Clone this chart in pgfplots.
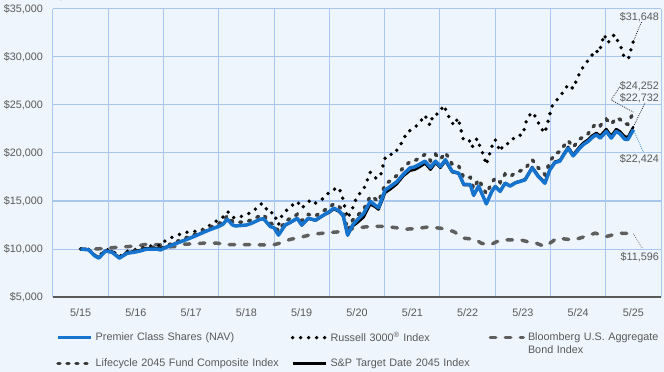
\documentclass[border=0pt]{standalone}
\usepackage{pgfplots}
\pgfplotsset{compat=1.18}
\usepackage{fontspec}
\setmainfont{Liberation Sans}
\definecolor{bgc}{RGB}{238,245,252}
\definecolor{gridblue}{RGB}{168,198,238}
\definecolor{axisgray}{RGB}{89,89,89}
\definecolor{textgray}{RGB}{89,89,89}
\definecolor{premblue}{RGB}{22,116,206}
\definecolor{bbgray}{RGB}{95,95,95}
\definecolor{lcgray}{RGB}{60,60,60}
\tikzset{
  premst/.style={draw=premblue, line width=3.5pt, line join=round},
  russst/.style={draw=black, line width=3.8pt, line cap=round, dash pattern=on 0pt off 8pt},
  bbst/.style={draw=bbgray, line width=3.5pt, line cap=round, dash pattern=on 5.5pt off 9.5pt},
  lcst/.style={draw=lcgray, line width=3.5pt, line cap=round, dash pattern=on 2pt off 7pt},
  spst/.style={draw=black, line width=2.4pt, line join=round},
}
\newcommand{\fs}{\fontsize{10.8}{13}\selectfont}
\begin{document}
\begin{tikzpicture}
\path[use as bounding box, fill=bgc] (0,0) rectangle (664pt,372pt);
\begin{axis}[
  at={(53pt,75pt)}, anchor=south west,
  scale only axis, width=608pt, height=288pt,
  xmin=-0.5, xmax=10.5, ymin=5000, ymax=35000,
  clip=false,
  axis x line*=bottom, axis y line*=left,
  x axis line style={draw=axisgray, line width=1.2pt},
  y axis line style={draw=gridblue, line width=1pt},
  xtick={0,1,2,3,4,5,6,7,8,9,10},
  xticklabels={5/15,5/16,5/17,5/18,5/19,5/20,5/21,5/22,5/23,5/24,5/25},
  minor xtick={-0.5,0.5,1.5,2.5,3.5,4.5,5.5,6.5,7.5,8.5,9.5,10.5},
  xminorgrids=true, xmajorgrids=false,
  ytick={5000,10000,15000,20000,25000,30000,35000},
  yticklabels={{\$5,000},{\$10,000},{\$15,000},{\$20,000},{\$25,000},{\$30,000},{\$35,000}},
  ymajorgrids=true,
  grid style={draw=gridblue, line width=1pt},
  minor grid style={draw=gridblue, line width=1pt},
  major tick length=0pt, minor tick length=0pt,
  tick label style={font=\fs, text=textgray},
  xticklabel style={yshift=-8pt},
  yticklabel style={xshift=-6.5pt},
  legend columns=3,
  legend cell align=left,
  legend style={at={(0.005,-0.118)}, anchor=north west, draw=none, fill=none,
    inner sep=0pt, font=\fs, text=textgray, nodes={inner sep=1pt},
    column sep=2pt, row sep=14pt},
  legend image code/.code={\draw[#1] (0pt,0pt) -- (33pt,0pt);},
]
\addlegendimage{premst}
\addlegendentry[text width=192pt, align=left]{Premier Class Shares (NAV)}
\addlegendimage{russst}
\addlegendentry[text width=155pt, align=left]{Russell 3000\textsuperscript{\textregistered} Index}
\addlegendimage{bbst}
\addlegendentry[text width=150pt, align=left]{Bloomberg U.S. Aggregate\\Bond Index}
\addlegendimage{lcst}
\addlegendentry[text width=192pt, align=left]{Lifecycle 2045 Fund Composite Index}
\addlegendimage{spst}
\addlegendentry[text width=155pt, align=left]{S\&P Target Date 2045 Index}

% Bloomberg U.S. Aggregate Bond Index
\addplot[bbst, forget plot] coordinates {
(0,10000) (0.2,9980) (0.4,10050) (0.6,10150) (0.84,10250) (1.0,10300) (1.2,10500) (1.44,10430) (1.5,10200) (1.7,10250) (1.86,10500) (2.1,10550) (2.3,10650) (2.47,10600) (2.7,10450) (3.07,10450) (3.46,10400) (3.6,10600) (3.79,11000) (4.0,11250) (4.15,11470) (4.3,11600) (4.58,11750) (4.76,11820) (4.88,12070) (5.12,12280) (5.3,12380) (5.54,12340) (5.9,12070) (6.1,12150) (6.27,12280) (6.51,12170) (6.75,11820) (6.93,11130) (7.14,11000) (7.25,10600) (7.41,10430) (7.53,10770) (7.71,10950) (7.96,10950) (8.08,10770) (8.2,10700) (8.4,10250) (8.62,11130) (8.75,11050) (8.91,10950) (9.03,11130) (9.31,11650) (9.51,11300) (9.75,11650) (10,11596)
};
% Russell 3000 Index
\addplot[russst, forget plot] coordinates {
(0,10000) (0.15,9950) (0.25,9400) (0.33,9250) (0.45,9950) (0.57,9850) (0.7,9200) (0.84,9750) (1.0,9950) (1.08,10050) (1.2,10250) (1.38,10400) (1.44,10350) (1.53,10850) (1.68,11300) (1.82,11580) (1.97,11820) (2.14,11850) (2.29,12280) (2.42,12800) (2.56,13220) (2.66,13900) (2.75,13300) (2.8,13220) (2.95,13460) (3.12,13900) (3.25,14680) (3.31,14700) (3.4,13740) (3.49,13800) (3.58,12520) (3.64,13460) (3.76,14260) (3.92,14950) (4.0,14260) (4.07,14600) (4.16,15130) (4.25,14780) (4.4,15300) (4.52,16070) (4.67,16410) (4.73,15540) (4.83,13220) (4.91,14090) (5.0,15470) (5.12,16230) (5.24,17980) (5.33,17390) (5.42,17500) (5.5,19400) (5.58,19900) (5.66,19820) (5.75,20520) (5.84,21390) (5.9,22150) (6.04,22610) (6.14,23240) (6.23,23930) (6.32,22880) (6.38,24000) (6.47,24070) (6.57,24970) (6.65,23890) (6.75,22880) (6.83,23650) (6.92,21500) (7.02,21500) (7.08,20590) (7.17,21500) (7.29,19750) (7.34,18780) (7.44,20690) (7.5,21400) (7.59,20170) (7.65,20870) (7.77,21050) (7.86,21740) (8.0,21910) (8.07,23480) (8.16,24240) (8.25,23650) (8.31,22720) (8.4,22090) (8.48,23820) (8.52,24800) (8.62,25560) (8.74,26430) (8.82,27130) (8.91,26710) (8.97,27580) (9.03,28350) (9.12,29220) (9.22,29910) (9.31,30710) (9.38,30430) (9.47,32340) (9.54,31470) (9.6,31990) (9.66,32340) (9.79,30850) (9.83,30010) (9.91,29800) (10,31648)
};
% Lifecycle 2045 Fund Composite Index
\addplot[lcst, forget plot] coordinates {
(0,10000) (0.15,9920) (0.25,9350) (0.33,9100) (0.45,9850) (0.57,9720) (0.70,9150) (0.84,9650) (1.0,9850) (1.08,9950) (1.2,10150) (1.38,10200) (1.44,10100) (1.6,10450) (1.74,10780) (1.9,11150) (2.05,11500) (2.17,11820) (2.29,12150) (2.4,12420) (2.5,12650) (2.58,12900) (2.65,13450) (2.75,12850) (2.8,12750) (2.9,12800) (3.0,12850) (3.1,13050) (3.25,13480) (3.31,13550) (3.43,12700) (3.5,12550) (3.58,11850) (3.7,12900) (3.8,13200) (3.92,13600) (4.0,12950) (4.12,13600) (4.25,13450) (4.33,13750) (4.4,14000) (4.5,14350) (4.58,14700) (4.67,14450) (4.75,13950) (4.83,11950) (4.92,13000) (5.0,13450) (5.12,14100) (5.24,15500) (5.32,15250) (5.39,14950) (5.51,16750) (5.6,17100) (5.72,17650) (5.84,18500) (5.96,19100) (6.04,19200) (6.11,19400) (6.23,19850) (6.33,19200) (6.42,19850) (6.51,19350) (6.6,20050) (6.72,18850) (6.84,18650) (6.93,17450) (7.05,17450) (7.11,16300) (7.2,17250) (7.34,15750) (7.44,16900) (7.5,17400) (7.59,16950) (7.68,17800) (7.77,17550) (7.87,17950) (7.96,18150) (8.04,18350) (8.17,19300) (8.28,18450) (8.4,17750) (8.49,19100) (8.58,19900) (8.67,20150) (8.75,20800) (8.82,21300) (8.91,20600) (9.03,21450) (9.1,21700) (9.18,22000) (9.25,22600) (9.33,23100) (9.4,22850) (9.51,23500) (9.6,23000) (9.69,23650) (9.76,23500) (9.84,23050) (9.9,23000) (10,24252)
};
% S&P Target Date 2045 Index
\addplot[spst, forget plot] coordinates {
(0,10000) (0.15,9920) (0.25,9350) (0.33,9100) (0.45,9850) (0.57,9700) (0.70,9100) (0.84,9650) (1.0,9800) (1.08,9900) (1.2,10100) (1.38,10100) (1.44,10000) (1.6,10350) (1.74,10650) (1.9,10980) (2.05,11320) (2.17,11620) (2.29,11920) (2.4,12170) (2.5,12370) (2.58,12620) (2.65,13100) (2.75,12500) (2.8,12400) (2.9,12450) (3.0,12500) (3.1,12700) (3.25,13100) (3.31,13150) (3.43,12350) (3.5,12200) (3.58,11450) (3.7,12450) (3.8,12750) (3.92,13150) (4.0,12450) (4.12,13150) (4.25,12950) (4.33,13250) (4.4,13500) (4.5,13800) (4.58,14150) (4.67,13900) (4.75,13400) (4.83,11400) (4.92,12350) (5.0,12700) (5.12,13300) (5.24,14650) (5.32,14400) (5.39,14100) (5.51,15850) (5.6,16200) (5.72,16750) (5.84,17600) (5.96,18150) (6.04,18250) (6.11,18450) (6.23,18900) (6.33,18250) (6.42,18950) (6.51,18450) (6.6,19150) (6.72,18000) (6.84,17850) (6.93,16650) (7.05,16650) (7.11,15550) (7.2,16500) (7.34,14750) (7.44,16050) (7.5,16550) (7.59,16050) (7.68,16900) (7.77,16600) (7.87,16950) (7.96,17100) (8.04,17280) (8.17,18550) (8.28,17650) (8.4,16950) (8.49,18350) (8.58,19100) (8.67,19250) (8.75,20000) (8.82,20650) (8.91,19850) (9.03,20680) (9.1,21100) (9.18,21400) (9.25,21800) (9.33,22100) (9.4,21800) (9.51,22500) (9.6,21800) (9.69,22500) (9.76,22250) (9.84,21750) (9.9,21650) (10,22732)
};
% Premier Class Shares (NAV)
\addplot[premst, forget plot] coordinates {
(0,10000) (0.15,9900) (0.25,9300) (0.33,9050) (0.45,9800) (0.57,9650) (0.70,9050) (0.84,9550) (1.0,9700) (1.08,9800) (1.2,10000) (1.38,10000) (1.44,9900) (1.6,10300) (1.74,10600) (1.9,10950) (2.05,11300) (2.17,11600) (2.29,11900) (2.4,12150) (2.5,12350) (2.58,12600) (2.65,13100) (2.75,12500) (2.8,12400) (2.9,12450) (3.0,12500) (3.1,12700) (3.25,13100) (3.31,13150) (3.43,12350) (3.5,12200) (3.58,11450) (3.7,12500) (3.8,12800) (3.92,13200) (4.0,12500) (4.12,13200) (4.25,13000) (4.33,13300) (4.4,13550) (4.5,13900) (4.58,14250) (4.67,14000) (4.75,13500) (4.83,11450) (4.92,12500) (5.0,13000) (5.12,13700) (5.24,14950) (5.32,14600) (5.39,14300) (5.51,16150) (5.6,16500) (5.72,17000) (5.84,17800) (5.96,18450) (6.04,18550) (6.11,18750) (6.23,19150) (6.33,18500) (6.42,19150) (6.51,18600) (6.6,19300) (6.72,18100) (6.84,17900) (6.93,16750) (7.05,16700) (7.11,15600) (7.2,16550) (7.34,14700) (7.44,16000) (7.5,16500) (7.59,16000) (7.68,16850) (7.77,16550) (7.87,16900) (7.96,17050) (8.04,17200) (8.17,18450) (8.28,17550) (8.4,16850) (8.49,18250) (8.58,19000) (8.67,19150) (8.75,19900) (8.82,20500) (8.91,19700) (9.03,20500) (9.1,20900) (9.18,21200) (9.25,21600) (9.33,21900) (9.4,21550) (9.51,22250) (9.6,21550) (9.69,22250) (9.76,22000) (9.84,21450) (9.9,21400) (10,22424)
};

% end-value callouts
\draw[black, line width=0.7pt, dash pattern=on 0.8pt off 1.2pt] (axis cs:10,31648) -- (axis cs:10.15,33686);
\draw[black, line width=0.7pt, dash pattern=on 0.8pt off 1.2pt] (axis cs:10,24252) -- (axis cs:9.6,25527) -- (axis cs:9.76,26986);
\draw[black, line width=0.7pt, dash pattern=on 0.8pt off 1.2pt] (axis cs:10,22732) -- (axis cs:10.21,25215);
\draw[premblue, line width=0.7pt, dash pattern=on 0.8pt off 1.2pt] (axis cs:10,22424) -- (axis cs:10.18,20110);
\draw[bbgray, line width=0.7pt, dash pattern=on 0.8pt off 1.2pt] (axis cs:10,11596) -- (axis cs:10.16,10106);
\node[anchor=east, inner sep=0pt, font=\fs, text=textgray] at (axis cs:10.467,34176) {\$31,648};
\node[anchor=east, inner sep=0pt, font=\fs, text=textgray] at (axis cs:10.467,26980) {\$24,252};
\node[anchor=east, inner sep=0pt, font=\fs, text=textgray] at (axis cs:10.467,25729) {\$22,732};
\node[anchor=east, inner sep=0pt, font=\fs, text=textgray] at (axis cs:10.467,19375) {\$22,424};
\node[anchor=east, inner sep=0pt, font=\fs, text=textgray] at (axis cs:10.467,9167) {\$11,596};
\end{axis}
\end{tikzpicture}
\end{document}
